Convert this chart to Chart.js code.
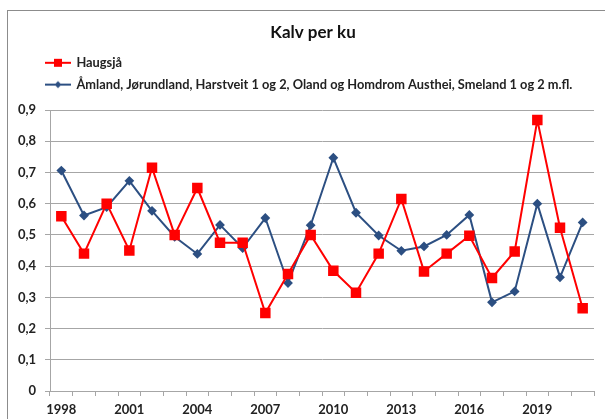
<!DOCTYPE html>
<html>
<head>
<meta charset="utf-8">
<script src="https://cdn.jsdelivr.net/npm/chart.js@4"></script>
<style>
  html, body { margin: 0; padding: 0; background: #fff; overflow: hidden; }
  #wrap { position: relative; width: 605px; height: 419px; }
  #frame { position: absolute; left: 7px; top: 10px; width: 640px; height: 460px; border: 1px solid #8c8c8c; }
  canvas { position: absolute; left: 0; top: 0; }
</style>
</head>
<body>
<div id="wrap">
  <div id="frame"></div>
  <canvas id="kalvChart" width="605" height="419"></canvas>
</div>
<script>
const years = ["1998","1999","2000","2001","2002","2003","2004","2005","2006","2007","2008","2009",
               "2010","2011","2012","2013","2014","2015","2016","2017","2018","2019","2020","2021"];
const haugsja = [0.56,0.44,0.60,0.45,0.715,0.50,0.65,0.475,0.475,0.25,0.375,0.50,
                 0.385,0.315,0.44,0.615,0.383,0.44,0.497,0.362,0.447,0.868,0.523,0.265];
const amland = [0.706,0.562,0.589,0.673,0.577,0.494,0.439,0.532,0.458,0.554,0.346,0.531,
                0.747,0.571,0.498,0.449,0.463,0.500,0.564,0.284,0.319,0.600,0.364,0.540];
const yTicks = [0,0.1,0.2,0.3,0.4,0.5,0.6,0.7,0.8,0.9];

const RED = "#ff0000";
const BLUE = "#2c4f82";
const FONT = "Lato, 'Open Sans', sans-serif";

// small legend icons, Excel style: line with the marker in the middle
function legendIcon(color, shape) {
  const c = document.createElement("canvas");
  c.width = 26; c.height = 12;
  const g = c.getContext("2d");
  g.strokeStyle = color; g.lineWidth = 2;
  g.beginPath(); g.moveTo(0, 6); g.lineTo(26, 6); g.stroke();
  g.fillStyle = color;
  if (shape === "square") {
    g.fillRect(9, 2, 8, 8);
  } else {
    g.beginPath(); g.moveTo(13, 2.5); g.lineTo(16.5, 6); g.lineTo(13, 9.5); g.lineTo(9.5, 6); g.closePath(); g.fill();
  }
  return c;
}
const icons = [legendIcon(RED, "square"), legendIcon(BLUE, "diamond")];

// legend: one entry per row, indented like the original; title nudged right
const legendRows = {
  id: "legendRows",
  beforeUpdate(chart) {
    const lg = chart.legend;
    if (lg && !lg._rowsPatched) {
      const orig = lg.update;
      lg.update = function (maxW, maxH, margins) {
        orig.call(this, 300, maxH, margins);
        this.height += 9;
      };
      lg._rowsPatched = true;
    }
  },
  afterLayout(chart) {
    chart.legend.left = 37;
    chart.titleBlock.left += 16;
    chart.titleBlock.right += 16;
  }
};

new Chart(document.getElementById("kalvChart"), {
  type: "line",
  data: {
    labels: years,
    datasets: [{
      label: "Haugsjå",
      data: haugsja,
      borderColor: RED,
      backgroundColor: RED,
      borderWidth: 2,
      pointStyle: "rect",
      pointRadius: 6,
      tension: 0,
      fill: false
    }, {
      label: "Åmland, Jørundland, Harstveit 1 og 2, Oland og Homdrom Austhei, Smeland 1 og 2 m.fl.",
      data: amland,
      borderColor: BLUE,
      backgroundColor: BLUE,
      borderWidth: 2,
      pointStyle: "rectRot",
      pointRadius: 3.5,
      tension: 0,
      fill: false
    }]
  },
  options: {
    responsive: false,
    animation: false,
    events: [],
    layout: { padding: { left: 0, right: 11, top: 0, bottom: 0 } },
    plugins: {
      title: {
        display: true,
        text: "Kalv per ku",
        color: "#111",
        font: { family: FONT, size: 17, weight: "bold" },
        padding: { top: 22, bottom: 5 }
      },
      legend: {
        display: true,
        position: "top",
        align: "start",
        labels: {
          color: "#222",
          font: { family: FONT, size: 12.8, weight: "bold" },
          usePointStyle: true,
          pointStyleWidth: 24,
          padding: 9,
          generateLabels(chart) {
            const items = Chart.defaults.plugins.legend.labels.generateLabels(chart);
            items.forEach((it, i) => { it.pointStyle = icons[i]; });
            return items;
          }
        }
      },
      tooltip: { enabled: false }
    },
    scales: {
      x: {
        offset: true,
        grid: { display: true, offset: true, drawOnChartArea: false, drawTicks: true, tickLength: 5, color: "#a6a6a6" },
        border: { color: "#a6a6a6" },
        ticks: {
          autoSkip: false,
          maxRotation: 0,
          color: "#222",
          font: { family: FONT, size: 13, weight: "bold" },
          padding: 6,
          callback: (v, i) => (i % 3 === 0 ? years[i] : "")
        },
        afterFit(scale) { scale.height = 28; }
      },
      y: {
        min: 0,
        max: 0.9,
        afterBuildTicks(scale) { scale.ticks = yTicks.map(v => ({ value: v })); },
        grid: { color: "#a6a6a6", tickLength: 5 },
        border: { color: "#a6a6a6" },
        ticks: {
          color: "#222",
          font: { family: FONT, size: 13, weight: "bold" },
          padding: 9,
          callback: v => (v === 0 ? "0" : v.toFixed(1).replace(".", ","))
        },
        afterFit(scale) { scale.width = 50; }
      }
    }
  },
  plugins: [legendRows]
});
</script>
</body>
</html>
